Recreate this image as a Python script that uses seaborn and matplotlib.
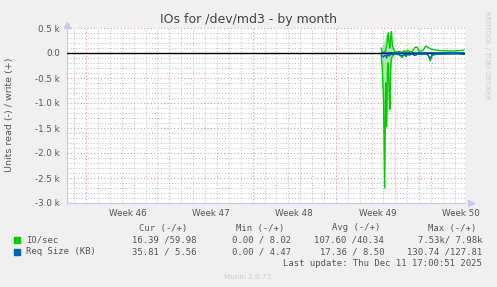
import matplotlib
matplotlib.use("Agg")
import matplotlib.pyplot as plt
import seaborn as sns
import pandas as pd
import numpy as np

# ---- data (days since start of Week 46) ----
times = [24.81, 24.89, 25.0, 25.1, 25.18, 25.26, 25.33, 25.4, 25.47, 25.54, 25.6, 25.67, 25.75,
         25.9, 26.1, 26.32, 26.57, 26.75, 26.88, 27.05, 27.16, 27.4, 27.64, 27.83, 28.0, 28.16,
         28.35, 28.56, 28.75, 28.92, 29.1, 29.4, 29.7, 30.09, 30.5, 30.93, 31.3, 31.77]
io_write = [100, 20, 10, 30, 60, 150, 250, 400, 200, 100, 300, 430, 150, 40, 20, 30, 10, 40, 20,
            60, 30, 20, 110, 120, 30, 40, 60, 140, 110, 90, 70, 60, 50, 45, 40, 40, 45, 60]
io_read = [-50, -300, -900, -2700, -600, -1470, -400, -200, -700, -1120, -300, -100, -60, -30,
           -20, -40, -90, -20, -30, -20, -40, -20, -50, -30, -20, -30, -20, -20, -40, -160, -50,
           -30, -20, -20, -15, -15, -15, -20]
req_read = [-20, -60, -80, -50, -40, -100, -30, -20, -60, -40, -20, -30, -20, -20, -20, -30, -60,
            -20, -70, -20, -40, -20, -50, -20, -20, -30, -20, -20, -40, -110, -30, -20, -20, -20,
            -15, -15, -15, -30]
req_write = [10, 5, 5, 5, 10, 10, 5, 5, 10, 5, 5, 10, 5, 5, 5, 5, 5, 5, 5, 5, 5, 5, 5, 5, 5, 5,
             5, 5, 5, 5, 5, 5, 5, 5, 5, 5, 5, 5]
env_t = [24.85, 25.0, 25.1, 25.26, 25.4, 25.54, 25.67, 25.8]
env_low = [-200, -1300, -1500, -1500, -1150, -1150, -200, -50]
env_high = [100, 200, 300, 400, 430, 430, 300, 50]

week_labels = ["Week 46", "Week 47", "Week 48", "Week 49", "Week 50"]
week_centers = [3.5, 10.5, 17.5, 24.5, 31.5]
ytick_vals = [-3000, -2500, -2000, -1500, -1000, -500, 0, 500]
ytick_labels = ["-3.0 k", "-2.5 k", "-2.0 k", "-1.5 k", "-1.0 k", "-0.5 k", "0.0", "0.5 k"]

GREEN = "#00cc00"
BLUE = "#0066b3"
TXT = "#555555"

sns.set_style("white")
plt.rcParams['font.family'] = ['DejaVu Sans']

W, H = 497, 287
fig = plt.figure(figsize=(W / 100, H / 100), dpi=100)
fig.patch.set_facecolor("#f0f0f0")
ax = fig.add_axes([67 / W, (H - 203) / H, 398 / W, 175 / H])
ax.set_facecolor("white")

df = pd.DataFrame({"t": times, "w": io_write, "r": io_read, "qr": req_read, "qw": req_write})

ax.fill_between(env_t, env_low, env_high, color="#66dd66", alpha=0.55, lw=0, zorder=2)
sns.lineplot(data=df, x="t", y="r", ax=ax, color=GREEN, lw=1.0, zorder=3)
sns.lineplot(data=df, x="t", y="w", ax=ax, color=GREEN, lw=1.0, zorder=3)
sns.lineplot(data=df, x="t", y="qr", ax=ax, color=BLUE, lw=1.0, zorder=4)
sns.lineplot(data=df, x="t", y="qw", ax=ax, color=BLUE, lw=1.0, zorder=4)
ax.axhline(0, color="black", lw=1.0, zorder=3.5)

xmin, xmax = -1.6, 31.85
ax.set_xlim(xmin, xmax)
ax.set_ylim(-3000, 500)

# grid
ax.set_xticks([0, 7, 14, 21, 28])
ax.set_xticks(np.arange(-1, 32, 1), minor=True)
ax.set_yticks(ytick_vals)
ax.set_yticks(np.arange(-3000, 501, 100), minor=True)
ax.set_yticklabels(ytick_labels)
ax.set_xticklabels([])
ax.grid(which="minor", color="#bdbdbd", ls=(0, (1, 2)), lw=0.7, zorder=0)
ax.grid(which="major", color="#e39a9a", ls=(0, (1, 2)), lw=0.8, zorder=1)
ax.tick_params(axis="x", which="both", length=0)
ax.tick_params(axis="y", which="major", length=2, color="#bbbbbb", labelsize=6.3,
               labelcolor=TXT, pad=3)
ax.tick_params(axis="y", which="minor", length=0)
ax.set_xlabel("")
ax.set_ylabel("")

for s in ["top", "right"]:
    ax.spines[s].set_visible(False)
for s in ["left", "bottom"]:
    ax.spines[s].set_color("#c8c8f0")
    ax.spines[s].set_linewidth(0.8)
ax.plot([0], [1.02], marker="^", color="#c8c8f0", ms=4, transform=ax.transAxes, clip_on=False)
ax.plot([1.015], [0], marker=">", color="#c8c8f0", ms=4, transform=ax.transAxes, clip_on=False)

for lab, c in zip(week_labels, week_centers):
    ax.text(c, -0.035, lab, transform=ax.get_xaxis_transform(), ha="center", va="top",
            fontsize=6.3, color=TXT)

# titles
fig.text(248 / W, 1 - 20 / H, "IOs for /dev/md3 - by month", ha="center", va="center",
         fontsize=9, color="#444444")
fig.text(10 / W, 1 - 115 / H, "Units read (-) / write (+)", ha="center", va="center",
         rotation=90, fontsize=6.8, color=TXT)
fig.text(487 / W, 1 - 55 / H, "RRDTOOL / TOBI OETIKER", ha="center", va="center",
         rotation=270, fontsize=5.0, color="#cccccc")

# legend (monospace)
mono = dict(family="DejaVu Sans Mono", fontsize=6.4, color=TXT, va="center")
def ft(x, y, s, ha="left", **kw):
    d = dict(mono)
    d.update(kw)
    fig.text(x / W, 1 - y / H, s, ha=ha, **d)

ft(187, 228, "Cur (-/+)", ha="right")
ft(284, 228, "Min (-/+)", ha="right")
ft(380, 228, "Avg (-/+)", ha="right")
ft(476, 228, "Max (-/+)", ha="right")

fig.patches.append(matplotlib.patches.Rectangle((14 / W, 1 - 243 / H), 6 / W, 6 / H,
                                                color=GREEN, transform=fig.transFigure))
fig.patches.append(matplotlib.patches.Rectangle((14 / W, 1 - 255 / H), 6 / W, 6 / H,
                                                color=BLUE, transform=fig.transFigure))
ft(26, 240, "IO/sec")
ft(197, 240, "16.39 /59.98", ha="right")
ft(291, 240, "0.00 / 8.02", ha="right")
ft(384, 240, "107.60 /40.34", ha="right")
ft(482, 240, "7.53k/ 7.98k", ha="right")

ft(26, 252, "Req Size (KB)")
ft(197, 252, "35.81 / 5.56", ha="right")
ft(291, 252, "0.00 / 4.47", ha="right")
ft(384, 252, "17.36 / 8.50", ha="right")
ft(482, 252, "130.74 /127.81", ha="right")

ft(482, 263, "Last update: Thu Dec 11 17:00:51 2025", ha="right")
fig.text(248 / W, 1 - 277 / H, "Munin 2.0.73", ha="center", va="center", fontsize=5.2,
         color="#cccccc")

fig.savefig("out.png", dpi=100, facecolor=fig.get_facecolor())
